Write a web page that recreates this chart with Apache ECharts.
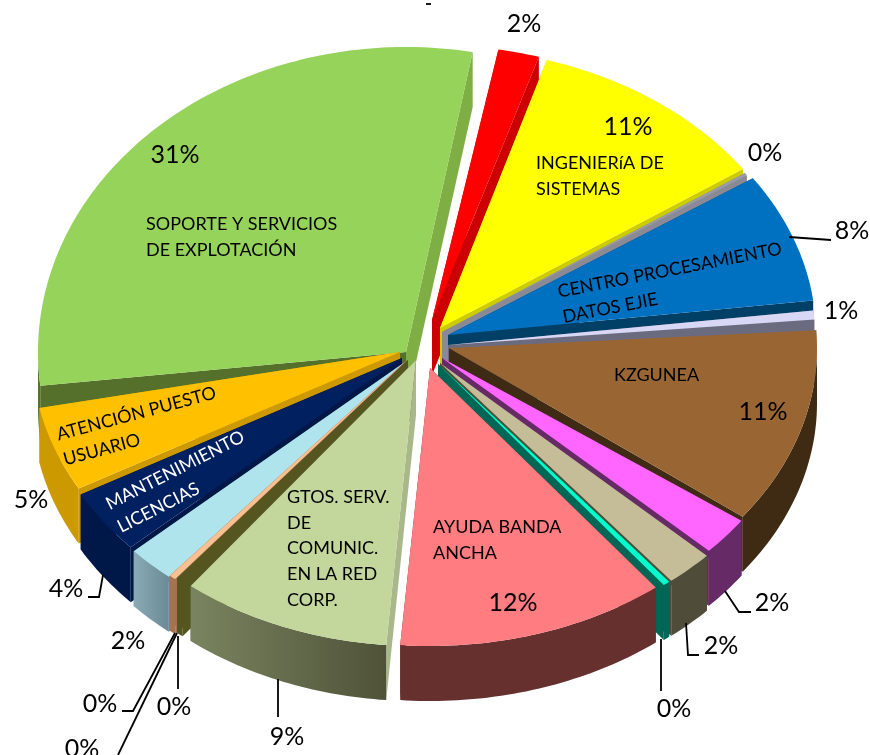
<!DOCTYPE html>
<html>
<head>
<meta charset="utf-8">
<style>html,body{margin:0;padding:0;background:#fff}#chart{width:870px;height:755px}</style>
<script src="https://cdn.jsdelivr.net/npm/echarts@6/dist/echarts.min.js"></script>
</head>
<body>
<div id="chart"></div>
<script>
// clockwise from the top, starting at the red slice
var sliceValues = [1.8, 10.7, 0.15, 7.5, 0.95, 11.3, 1.8, 2.1, 0.3, 11.8, 9.2, 0.3, 0.3, 2.1, 3.7, 4.9, 31]
var percentLabels = ['2%', '11%', '0%', '8%', '1%', '11%', '2%', '2%', '0%', '12%', '9%', '0%', '0%', '2%', '4%', '5%', '31%']
var sliceNames = ['', 'INGENIERíA DE\nSISTEMAS', '', 'CENTRO PROCESAMIENTO\nDATOS EJIE', '', 'KZGUNEA', '', '', '',
  'AYUDA BANDA\nANCHA', 'GTOS. SERV.\nDE\nCOMUNIC.\nEN LA RED\nCORP.', '', '', '', 'MANTENIMIENTO\nLICENCIAS',
  'ATENCIÓN PUESTO\nUSUARIO', 'SOPORTE Y SERVICIOS\nDE EXPLOTACIÓN']

// colours
var topColors = ['#ff0000', '#ffff00', '#9a9aa8', '#0070c0', '#d8d8f6', '#996633', '#ff66ff', '#c4bd97', '#00ffcc',
  '#ff7c80', '#c3d69b', '#55551f', '#fac090', '#b0e4ec', '#002060', '#ffc000', '#95d35a']
var startCutColors = ['#cc0000', '#cccc00', '#8a8a96', '#003f66', '#6b6b80', '#6b6b80', '#662a66', '#4f4d3a', '#006655',
  '#66302f', '#a9b88a', '#55551f', '#a8714f', '#6f8f99', '#001848', '#cc9a00', '#55702b']
var endCutColors = ['#cc0000', '#cccc00', '#8a8a96', '#003f66', '#6b6b80', '#3f2a14', '#662a66', '#4f4d3a', '#006655',
  '#66302f', '#55552a', '#55551f', '#a8714f', '#6f8f99', '#001848', '#cc9a00', '#7faf44']
var wallColors = ['#cc0000', '#cccc00', '#8a8a96', '#003f66', '#6b6b80', '#3f2a14', '#662a66', '#4f4d3a', '#006655',
  '#66302f', ['#7a8460', '#4f5238'], '#55551f', '#a8714f', ['#8aaab4', '#6a8a95'], '#001848', '#cc9a00', '#55702b']

// layout of the exploded 3d pie, in px of the hidden axes
var tipX = [432, 440, 442, 448, 448, 449, 442, 440, 438, 430, 416, 408, 406, 405, 402, 400, 406]
var tipY = [320, 328, 332, 335, 345, 348, 358, 363, 364, 368, 360, 360, 361, 362, 358, 352, 352]
var radiusY = [275, 280, 280, 280, 280, 280, 280, 280, 280, 278, 286, 280, 280, 280, 280, 280, 305]
var trimStart = [0, 0, 0, 0, 0, 0, -1.5, 0, 0, 0, 0, 0, 0, 0, 0, 0, 5.2]
var trimEnd = [0, 0, 0, 0, -1.6, 0, 0, 0, 0, 0, 0, 0, 0, 0, 0, 0, 0.4]
var radiusX = 368
var depth = 55
var startAngle = 10.4
var paintOrder = [16, 0, 1, 2, 3, 4, 5, 6, 7, 8, 15, 14, 13, 12, 11, 10, 9]

var percentX = [524, 628, 765, 852, 841, 763, 772, 721, 674, 513, 287, 174, 100, 128, 66, 31, 175]
var percentY = [24, 127, 153, 231, 311, 412, 603, 646, 709, 603, 737, 707, 704, 641, 589, 500, 155]
var extraPercent = [['0%', 82, 749]]

var nameX = [0, 536, 0, 558, 0, 614, 0, 0, 0, 433, 287, 0, 0, 0, 107, 57, 146]
var nameY = [0, 163, 0, 292, 0, 375, 0, 0, 0, 527, 497, 0, 0, 0, 505, 435, 224]
var nameAngle = [0, 0, 0, 11, 0, 0, 0, 0, 0, 0, 0, 0, 0, 0, 27, 15, 0]

var leaderLines = [
  [[789, 237], [831, 240]],
  [[103, 575], [99, 597], [88, 597]],
  [[175, 633], [133, 711], [122, 711]],
  [[177, 633], [118, 755]],
  [[178, 636], [178, 689]],
  [[278, 679], [278, 717]],
  [[661, 639], [661, 691]],
  [[686, 623], [688, 655], [699, 655]],
  [[725, 591], [739, 612], [751, 612]],
  [[426, 4], [431, 4]]
]

var rad = Math.PI / 180
var startAngles = []
var running = startAngle
sliceValues.forEach(function (v) {
  startAngles.push(running)
  running += v * 3.6
})

function outerPoint(i, deg) {
  return [tipX[i] + radiusX * Math.sin(deg * rad), tipY[i] - radiusY[i] * Math.cos(deg * rad)]
}

function renderSlice(params, api) {
  var i = api.value(0)
  var a0 = startAngles[i] + trimStart[i]
  var a1 = startAngles[i] + api.value(1) * 3.6 + trimEnd[i]
  var arc = []
  var frontArc = []
  var steps = Math.max(2, Math.ceil(a1 - a0))
  for (var s = 0; s <= steps; s++) {
    var deg = a0 + (a1 - a0) * s / steps
    arc.push(outerPoint(i, deg))
    // only the near half of the rim faces the viewer
    if (deg >= 90 && deg <= 270) frontArc.push(outerPoint(i, deg))
  }
  var tip = [tipX[i], tipY[i]]
  var down = function (p) { return [p[0], p[1] + depth] }
  var px = function (list) { return list.map(function (p) { return api.coord(p) }) }
  var poly = function (list, fill) {
    return { type: 'polygon', shape: { points: px(list) }, style: { fill: fill, stroke: 'none' } }
  }
  var first = arc[0]
  var last = arc[arc.length - 1]
  var wall = wallColors[i]
  var wallFill = Array.isArray(wall)
    ? new echarts.graphic.LinearGradient(0, 0, 1, 0, [{ offset: 0, color: wall[0] }, { offset: 1, color: wall[1] }])
    : wall
  var startCut = poly([tip, first, down(first), down(tip)], startCutColors[i])
  var endCut = poly([tip, last, down(last), down(tip)], endCutColors[i])
  var children = first[1] < last[1] ? [startCut, endCut] : [endCut, startCut]
  if (frontArc.length > 1) children.push(poly(frontArc.concat(frontArc.slice().reverse().map(down)), wallFill))
  children.push(poly([tip].concat(arc), topColors[i]))
  return { type: 'group', children: children }
}

function textEl(api, text, x, y, font, fill, angle, align, lineHeight) {
  var p = api.coord([x, y])
  return {
    type: 'text',
    x: p[0],
    y: p[1],
    rotation: (angle || 0) * rad,
    style: {
      text: text,
      font: font,
      fill: fill,
      align: align,
      verticalAlign: 'middle',
      lineHeight: lineHeight
    }
  }
}

var chart = echarts.init(document.getElementById('chart'), null, { renderer: 'canvas' })
chart.setOption({
  backgroundColor: '#fff',
  animation: false,
  grid: { left: 0, right: 0, top: 0, bottom: 0 },
  xAxis: { type: 'value', min: 0, max: 870, show: false },
  yAxis: { type: 'value', min: 0, max: 755, inverse: true, show: false },
  series: [
    {
      type: 'custom',
      silent: true,
      clip: false,
      z: 2,
      data: paintOrder.map(function (i) { return [i, sliceValues[i]] }),
      encode: { x: 0, y: 1 },
      renderItem: renderSlice
    },
    {
      // leader lines
      type: 'custom',
      silent: true,
      clip: false,
      z: 3,
      data: leaderLines.map(function (l, i) { return [i] }),
      encode: { x: 0 },
      renderItem: function (params, api) {
        var line = leaderLines[api.value(0)]
        return {
          type: 'polyline',
          shape: { points: line.map(function (p) { return api.coord(p) }) },
          style: { stroke: '#000', lineWidth: 1.8, fill: 'none' }
        }
      }
    },
    {
      // slice names
      type: 'custom',
      silent: true,
      clip: false,
      z: 4,
      data: sliceNames.map(function (n, i) { return [i] }).filter(function (d) { return sliceNames[d[0]] }),
      encode: { x: 0 },
      renderItem: function (params, api) {
        var i = api.value(0)
        var fill = i === 14 ? '#fff' : '#000'
        var lines = sliceNames[i].split('\n').length
        // nameY is the middle of the first line
        var a = nameAngle[i] * rad
        var off = (lines - 1) * 25.7 / 2
        return textEl(api, sliceNames[i], nameX[i] + Math.sin(a) * off, nameY[i] + Math.cos(a) * off,
          '18px Lato', fill, nameAngle[i], 'left', 25.7)
      }
    },
    {
      // percent labels
      type: 'custom',
      silent: true,
      clip: false,
      z: 5,
      data: percentX.map(function (x, i) { return [i] }),
      encode: { x: 0 },
      renderItem: function (params, api) {
        var i = api.value(0)
        return textEl(api, percentLabels[i], percentX[i], percentY[i], '25px Lato', '#000', 0, 'center')
      }
    },
    {
      type: 'custom',
      silent: true,
      clip: false,
      z: 5,
      data: extraPercent.map(function (e, i) { return [i] }),
      encode: { x: 0 },
      renderItem: function (params, api) {
        var e = extraPercent[api.value(0)]
        return textEl(api, e[0], e[1], e[2], '25px Lato', '#000', 0, 'center')
      }
    }
  ]
})
</script>
</body>
</html>
